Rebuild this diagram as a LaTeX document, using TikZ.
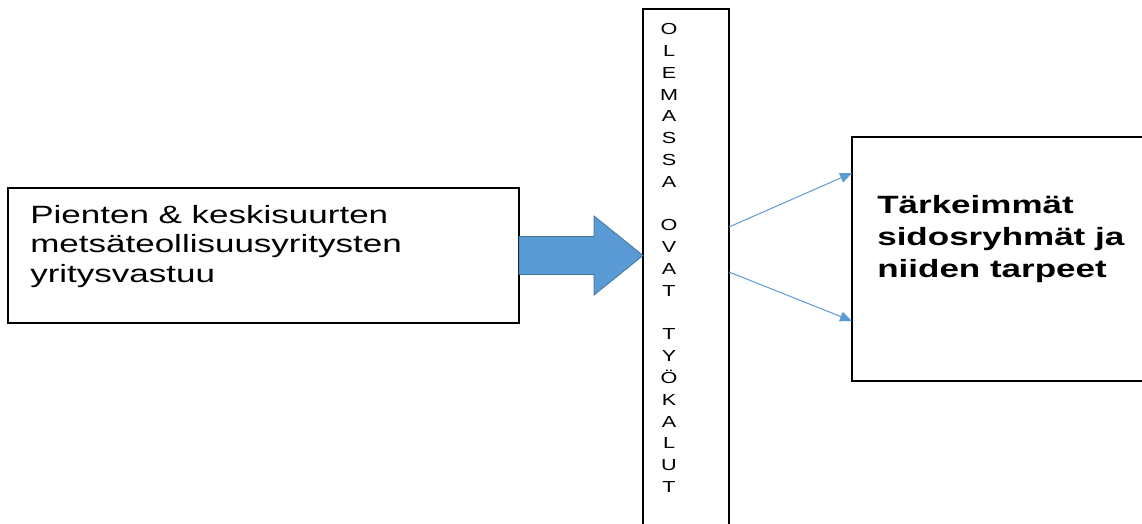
\documentclass[tikz,border=0pt]{standalone}
\usepackage{fontspec}
\setmainfont{Liberation Sans}
\usetikzlibrary{positioning,calc,arrows.meta}
\definecolor{fillblue}{HTML}{5B9BD5}
\definecolor{edgeblue}{HTML}{41719C}

\begin{document}
\begin{tikzpicture}[x=1pt,y=-1pt,
box/.style={draw,line width=1.5pt,inner sep=0pt,outer sep=0pt,anchor=north west},
txt/.style={align=left,inner sep=0pt,anchor=north west,xscale=1.4,
font=\fontsize{25}{29.5}\selectfont},
letter/.style={inner sep=0pt,anchor=base,xscale=1.35,font=\fontsize{16}{18}\selectfont},
link/.style={fillblue,line width=1pt,-{Triangle[length=12pt,width=10pt]}}]
\clip (0,0) rectangle (1142,524);
\node[box,minimum width=511,minimum height=135] (src) at (8,188) {};
\node[box,minimum width=86,minimum height=540] (tools) at (643,9) {};
\node[box,minimum width=320,minimum height=244] (dest) at (852,137) {};
\node[txt] (srctxt) at (30,204.8)
{Pienten \& keskisuurten\\metsäteollisuusyritysten\\yritysvastuu};
\node[txt,font=\fontsize{25}{32}\selectfont\bfseries] (desttxt) at (877,195)
{Tärkeimmät\\sidosryhmät ja\\niiden tarpeet};
\foreach \ch/\r in {O/0,L/1,E/2,M/3,A/4,S/5,S/6,A/7,O/9,V/10,A/11,T/12,
T/14,Y/15,Ö/16,K/17,A/18,L/19,U/20,T/21}
	\node[letter] (c\r) at (669,34.7+21.8*\r) {\ch};
% block arrow into the tools column
\filldraw[fill=fillblue,draw=edgeblue,line width=0.8pt]
($(src.east)+(0,-19)$) -- ($(src.east)+(75,-19)$) -- ($(src.east)+(75,-39.5)$)
-- (tools.west |- src.east) -- ($(src.east)+(75,39.5)$)
-- ($(src.east)+(75,19)$) -- ($(src.east)+(0,19)$) -- cycle;
\draw[link] (tools.east |- 0,227) -- (dest.west |- 0,173);
\draw[link] (tools.east |- 0,272) -- (dest.west |- 0,321);
\end{tikzpicture}
\end{document}
